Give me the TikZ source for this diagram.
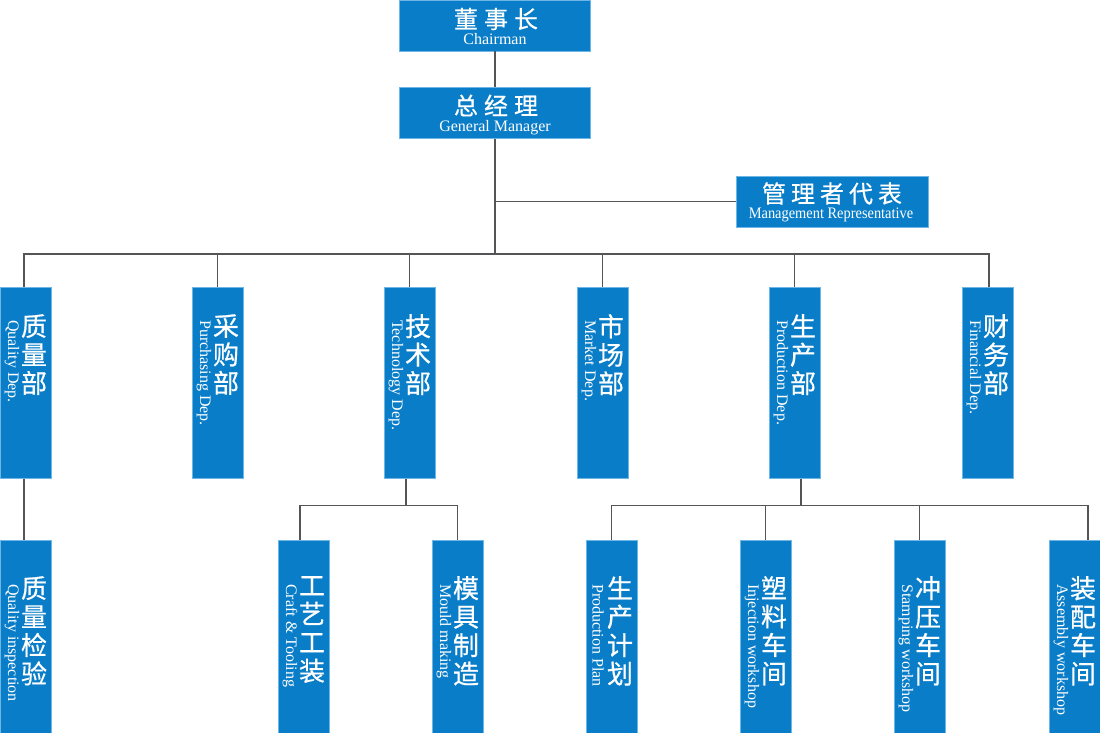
\documentclass[tikz,border=0pt]{standalone}
\usepackage{fontspec}
\setmainfont{Liberation Serif}
\newfontfamily\cjk{Noto Sans CJK SC}[FakeBold=0.6]
\newfontfamily\condserif{Liberation Serif}[FakeStretch=0.9]
\definecolor{boxblue}{HTML}{0A7DC8}
\definecolor{boxedge}{HTML}{6DB6E6}
\definecolor{linegray}{HTML}{555457}
\tikzset{
  box/.style={fill=boxblue, draw=boxedge, line width=0.8pt, inner sep=0pt, minimum width=51pt},
  dep/.style={box, minimum height=191pt},
  sub/.style={box, minimum height=193pt},
  hbox/.style={box, minimum width=191pt, minimum height=51pt},
  link/.style={draw=linegray, line width=1.8pt},
  cnv/.style={text=white, font=\cjk\fontsize{26}{28.5}\selectfont, align=center, inner sep=0pt, anchor=north},
  env/.style={text=white, font=\fontsize{16}{18}\selectfont, rotate=-90, anchor=west, inner sep=0pt},
  cnh/.style={text=white, font=\cjk\fontsize{24}{26}\selectfont, inner sep=0pt, anchor=center},
  enh/.style={text=white, font=\fontsize{16}{18}\selectfont, inner sep=0pt, anchor=base},
}
\begin{document}
\begin{tikzpicture}[x=1pt,y=-1pt]
\useasboundingbox (0,0) rectangle (1100,732);
% top boxes
\node[hbox] (ch) at (495,25.5) {};
\node[hbox] (gm) at (495,113) {};
\node[hbox, minimum width=192pt] (mr) at (832,201.5) {};
\node[cnh] (ch-cn) at (496,19) {董\hspace{6pt}事\hspace{6pt}长};
\node[enh] (ch-en) at (495,44) {Chairman};
\node[cnh] (gm-cn) at (496,105.5) {总\hspace{6pt}经\hspace{6pt}理};
\node[enh] (gm-en) at (495,131) {General Manager};
\node[cnh] (mr-cn) at (832,193.5) {管\hspace{5pt}理\hspace{5pt}者\hspace{5pt}代\hspace{5pt}表};
\node[enh, font=\condserif\fontsize{16}{18}\selectfont] (mr-en) at (831,218) {Management Representative};
% departments
\node[dep] (qd) at (25.5,383) {};
\node[dep] (pd) at (217.5,383) {};
\node[dep] (td) at (409.5,383) {};
\node[dep] (md) at (602.5,383) {};
\node[dep] (prd) at (794.5,383) {};
\node[dep] (fd) at (987.5,383) {};
% sub units
\node[sub] (qi) at (25.5,636.5) {};
\node[sub] (ct) at (303.5,636.5) {};
\node[sub] (mm) at (457.5,636.5) {};
\node[sub] (pp) at (611.5,636.5) {};
\node[sub] (ij) at (765.5,636.5) {};
\node[sub] (st) at (919.5,636.5) {};
\node[sub] (as) at (1074.5,636.5) {};
% department texts
\node[cnv] (qd-cn) at (34,314) {质\\量\\部};
\node[env] (qd-en) at (12,320) {Quality Dep.};
\node[cnv] (pd-cn) at (226,314) {采\\购\\部};
\node[env] (pd-en) at (204,320) {Purchasing Dep.};
\node[cnv] (td-cn) at (418,314) {技\\术\\部};
\node[env] (td-en) at (396,320) {Technology Dep.};
\node[cnv] (md-cn) at (611,314) {市\\场\\部};
\node[env] (md-en) at (589,320) {Market Dep.};
\node[cnv] (prd-cn) at (803,314) {生\\产\\部};
\node[env] (prd-en) at (781,320) {Production Dep.};
\node[cnv] (fd-cn) at (996,314) {财\\务\\部};
\node[env] (fd-en) at (974,320) {Financial Dep.};
% sub texts
\node[cnv] (qi-cn) at (34,576) {质\\量\\检\\验};
\node[env] (qi-en) at (12,584) {Quality inspection};
\node[cnv] (ct-cn) at (312,576) {工\\艺\\工\\装};
\node[env] (ct-en) at (290,584) {Craft \& Tooling};
\node[cnv] (mm-cn) at (466,576) {模\\具\\制\\造};
\node[env] (mm-en) at (444,584) {Mould making};
\node[cnv] (pp-cn) at (620,576) {生\\产\\计\\划};
\node[env] (pp-en) at (598,584) {Production Plan};
\node[cnv] (ij-cn) at (774,576) {塑\\料\\车\\间};
\node[env] (ij-en) at (752,584) {Injection workshop};
\node[cnv] (st-cn) at (928,576) {冲\\压\\车\\间};
\node[env] (st-en) at (906,584) {Stamping workshop};
\node[cnv] (as-cn) at (1083,576) {装\\配\\车\\间};
\node[env] (as-en) at (1061,584) {Assembly workshop};
% connector coordinates
\coordinate (bus) at (495,254);
\coordinate (tbus) at (405.7,505.5);
\coordinate (pbus) at (800.7,505.5);
% connectors
\draw[link] (ch.south) -- (gm.north);
\draw[link] (gm.south) -- (gm.south |- bus);
\draw[link] (gm.south |- mr.west) -- (mr.west);
\draw[link] ([xshift=-1.5pt]qd.north) -- ([xshift=-1.5pt]qd.north |- bus) -- ([xshift=1.5pt]fd.north |- bus) -- ([xshift=1.5pt]fd.north);
\draw[link] (pd.north) -- (pd.north |- bus);
\draw[link] (td.north) -- (td.north |- bus);
\draw[link] (md.north) -- (md.north |- bus);
\draw[link] (prd.north) -- (prd.north |- bus);
\draw[link] ([xshift=-1.5pt]qd.south) -- ([xshift=-1.5pt]qi.north);
\draw[link] (td.south -| tbus) -- (tbus);
\draw[link] ([xshift=-3.5pt]ct.north) -- ([xshift=-3.5pt]ct.north |- tbus) -- (mm.north |- tbus) -- (mm.north);
\draw[link] (prd.south -| pbus) -- (pbus);
\draw[link] (pp.north) -- (pp.north |- pbus) -- ([xshift=13.2pt]as.north |- pbus) -- ([xshift=13.2pt]as.north);
\draw[link] (ij.north) -- (ij.north |- pbus);
\draw[link] (st.north) -- (st.north |- pbus);
\end{tikzpicture}
\end{document}
